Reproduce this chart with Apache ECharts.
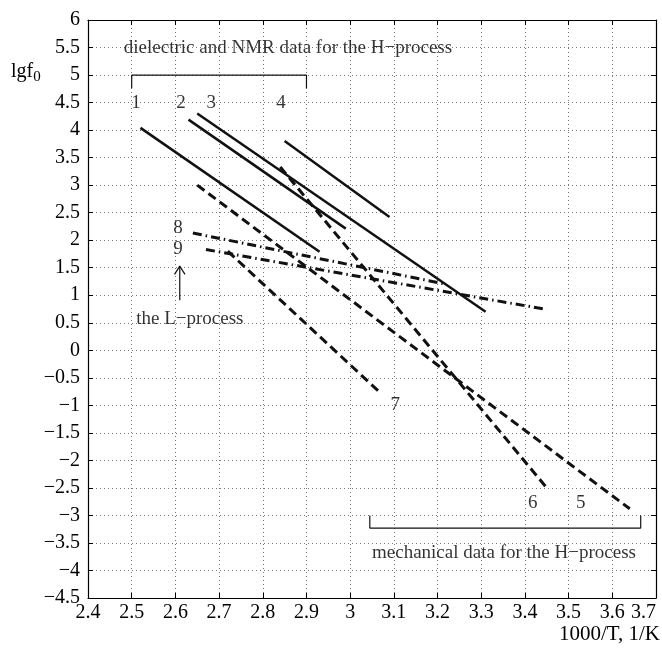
<!DOCTYPE html>
<html>
<head>
  <meta charset="utf-8" />
  <title>lgf0 vs 1000/T</title>
  <script src="https://cdn.jsdelivr.net/npm/echarts@6.0.0/dist/echarts.min.js"></script>
</head>
<style>
  body { margin: 0; padding: 0; overflow: hidden; background: #fff; }
</style>
<body>
  <div id="main" style="width: 662px; height: 648px;"></div>
  <script type="text/javascript">
    // axis ranges / ticks
    const xMin = 2.4, xMax = 3.7, xStep = 0.1;
    const yMin = -4.5, yMax = 6, yStep = 0.5;

    // lines: [1000/T, lgf0]
    const line1 = [[2.52, 4.04], [2.93, 1.79]];
    const line2 = [[2.63, 4.19], [2.99, 2.21]];
    const line3 = [[2.65, 4.30], [3.31, 0.70]];
    const line4 = [[2.85, 3.80], [3.09, 2.42]];
    const line5 = [[2.65, 3.00], [3.64, -2.88]];
    const line6 = [[2.84, 3.33], [3.45, -2.50]];
    const line7 = [[2.72, 1.80], [3.07, -0.78]];
    const line8 = [[2.64, 2.13], [3.22, 1.20]];
    const line9 = [[2.67, 1.83], [3.45, 0.74]];

    const solidLines = [line1, line2, line3, line4];
    const dashedLines = [line5, line6, line7];
    const dashDotLines = [line8, line9];

    // brackets and arrow (annotations)
    const topBracket = [[2.5, 4.76], [2.5, 5], [2.9, 5], [2.9, 4.76]];
    const bottomBracket = [[3.045, -3.0], [3.045, -3.23], [3.665, -3.23], [3.665, -3.0]];
    const arrowShaft = [[2.61, 0.91], [2.61, 1.53]];
    const arrowHead = [[2.598, 1.38], [2.61, 1.53], [2.622, 1.38]];

    // text labels: [x, y, text, align]
    const labels = [
      [2.482, 5.49, 'dielectric and NMR data for the H\u2212process', 'left'],
      [2.510, 4.49, '1', 'center'],
      [2.613, 4.49, '2', 'center'],
      [2.682, 4.49, '3', 'center'],
      [2.842, 4.49, '4', 'center'],
      [2.606, 2.22, '8', 'center'],
      [2.606, 1.84, '9', 'center'],
      [2.633, 0.56, 'the L\u2212process', 'center'],
      [3.103, -1.0, '7', 'center'],
      [3.418, -2.78, '6', 'center'],
      [3.528, -2.78, '5', 'center'],
      [3.352, -3.69, 'mechanical data for the H\u2212process', 'center']
    ];

    const serif = 'Liberation Serif';
    const fmt = v => {
      const s = String(+v.toFixed(1));
      return s.replace('-', '\u2212');
    };

    const myChart = echarts.init(document.getElementById('main'));

    const series = [];
    function addLine(pts, type, width) {
      series.push({
        type: 'line',
        data: pts,
        symbol: 'none',
        silent: true,
        animation: false,
        lineStyle: { color: '#111', width: width, type: type, cap: 'butt' }
      });
    }
    solidLines.forEach(p => addLine(p, 'solid', 2.5));
    dashedLines.forEach(p => addLine(p, [9, 5], 3));
    dashDotLines.forEach(p => addLine(p, [9, 4, 1.5, 4], 3));
    addLine(topBracket, 'solid', 1.2);
    addLine(bottomBracket, 'solid', 1.2);
    addLine(arrowShaft, 'solid', 1.2);
    addLine(arrowHead, 'solid', 1.2);

    series.push({
      type: 'scatter',
      symbolSize: 0,
      silent: true,
      animation: false,
      data: labels.map(l => ({
        value: [l[0], l[1]],
        name: l[2],
        label: { align: l[3] }
      })),
      label: {
        show: true,
        position: 'inside',
        formatter: '{b}',
        color: '#000',
        textBorderWidth: 0,
        fontFamily: serif,
        fontSize: 19,
        verticalAlign: 'middle'
      }
    });

    const axisCommon = {
      axisLine: { show: true, onZero: false, lineStyle: { color: '#000', width: 1.2 } },
      axisTick: { show: true, inside: true, length: 5, lineStyle: { color: '#000' } }
    };

    const option = {
      animation: false,
      backgroundColor: '#fff',
      grid: { left: 88, right: 6, top: 20, bottom: 50, outerBoundsMode: 'none', containLabel: false },
      xAxis: [
        Object.assign({
          type: 'value', min: xMin, max: xMax, interval: xStep,
          axisLabel: {
            color: '#000', fontFamily: serif, fontSize: 20, margin: 5, formatter: fmt,
            alignMaxLabel: 'right'
          },
          splitLine: { show: true, lineStyle: { color: '#777', type: [1, 3], width: 1 } }
        }, axisCommon),
        Object.assign({
          type: 'value', min: xMin, max: xMax, interval: xStep, position: 'top',
          axisLabel: { show: false }, splitLine: { show: false }
        }, axisCommon)
      ],
      yAxis: [
        Object.assign({
          type: 'value', min: yMin, max: yMax, interval: yStep,
          axisLabel: { color: '#000', fontFamily: serif, fontSize: 20, margin: 8, formatter: fmt },
          splitLine: { show: true, lineStyle: { color: '#777', type: [1, 3], width: 1 } }
        }, axisCommon),
        Object.assign({
          type: 'value', min: yMin, max: yMax, interval: yStep, position: 'right',
          axisLabel: { show: false }, splitLine: { show: false }
        }, axisCommon)
      ],
      graphic: [
        {
          type: 'text', left: 11, top: 62,
          style: {
            text: '{a|lgf}{b|0}',
            rich: {
              a: { fontFamily: serif, fontSize: 20, fill: '#000' },
              b: { fontFamily: serif, fontSize: 15, fill: '#000', padding: [11, 0, 0, 0] }
            }
          }
        },
        {
          type: 'text', right: 2, top: 624,
          style: { text: '1000/T, 1/K', fontFamily: serif, fontSize: 21, fill: '#000' }
        }
      ],
      series: series
    };
    myChart.setOption(option);
  </script>
</body>
</html>
